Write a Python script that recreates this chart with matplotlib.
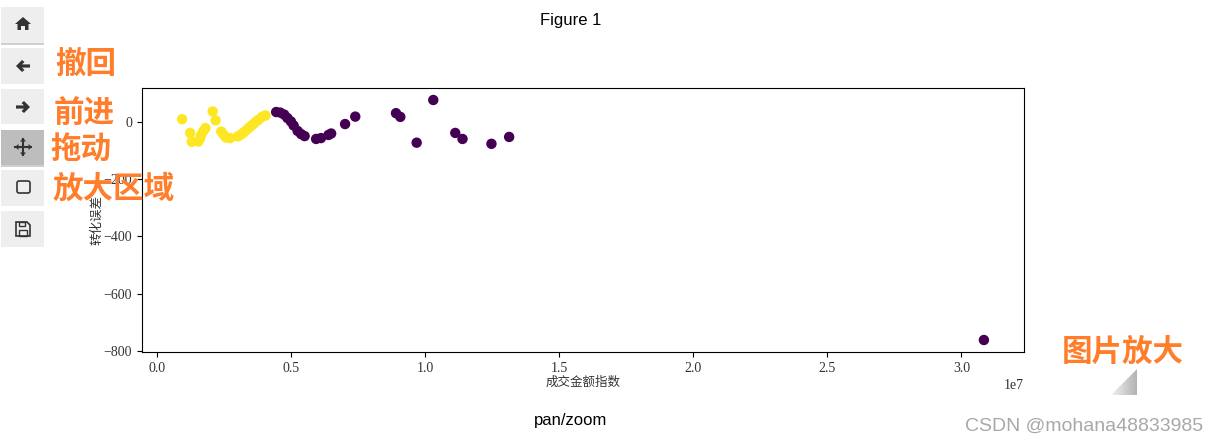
#!/usr/bin/env python3

import matplotlib
matplotlib.use("Agg")
import matplotlib.pyplot as plt
import numpy as np
from matplotlib.patches import Polygon, Rectangle, FancyBboxPatch

# scatter values
x_yellow = [0.93e6, 1.23e6, 1.29e6, 1.54e6, 1.60e6, 1.64e6, 1.72e6, 1.80e6, 2.07e6, 2.18e6, 2.39e6, 2.48e6, 2.57e6,
            2.72e6, 3.01e6, 3.12e6, 3.22e6, 3.32e6, 3.41e6, 3.50e6, 3.59e6, 3.68e6, 3.78e6, 3.91e6, 4.04e6]
y_yellow = [9, -39, -70, -69, -58, -46, -33, -22, 36, 5, -34, -45, -55,
            -57, -51, -45, -38, -30, -22, -15, -8, 0, 7, 17, 22]
x_purple = [4.44e6, 4.59e6, 4.74e6, 4.86e6, 4.99e6, 5.09e6, 5.24e6, 5.37e6, 5.50e6, 5.93e6,
            6.11e6, 6.39e6, 6.49e6, 7.01e6, 7.39e6, 8.91e6, 9.07e6, 9.68e6, 10.30e6, 11.12e6,
            11.39e6, 12.47e6, 13.13e6, 30.84e6]
y_purple = [34, 32, 25, 13, 1, -13, -32, -43, -50, -60,
            -57, -46, -41, -8, 18, 30, 17, -73, 76, -39,
            -60, -77, -53, -762]

xlabel = "成交金额指数"
ylabel = "转化误差"
notes = ["撤回", "前进", "拖动", "放大区域", "图片放大"]
W, H = 1219, 443

plt.rcParams["font.family"] = ["Liberation Serif", "Noto Sans CJK SC"]
fig = plt.figure(figsize=(W / 100, H / 100), dpi=100)

ax = fig.add_axes([142 / W, 1 - 352 / H, 882 / W, 264 / H])
labels = [1] * len(x_yellow) + [0] * len(x_purple)
ax.scatter(x_yellow + x_purple, y_yellow + y_purple, s=42, c=labels, cmap="viridis")
ax.set_xlabel(xlabel, family="Noto Sans CJK SC", fontsize=9, color="#333333", labelpad=1)
ax.set_ylabel(ylabel, family="Noto Sans CJK SC", fontsize=9, color="#333333", labelpad=0)
ax.tick_params(labelsize=10, labelcolor="#333333")

# page around the figure: toolbar, captions, notes, all in pixel coords
page = fig.add_axes([0, 0, 1, 1], zorder=5)
page.set_xlim(0, W)
page.set_ylim(H, 0)
page.axis("off")

tops = [7, 48, 89, 130, 170, 211]
bottoms = [43, 84, 124, 165, 206, 247]
for i, (t, b) in enumerate(zip(tops, bottoms)):
    face = "#bdbdbd" if i == 3 else "#eeeeee"
    if i in (0, 3):
        page.add_patch(Rectangle((1, b), 43, 2, fc="#cfcfcf", ec="none"))
    page.add_patch(Rectangle((1, t), 43, b - t, fc=face, ec="none"))

icon = "#333333"
# home
page.add_patch(Polygon([(15, 24), (23, 17), (31, 24), (28.5, 24), (28.5, 30), (25, 30), (25, 26),
                        (21, 26), (21, 30), (17.5, 30), (17.5, 24)], fc=icon, ec="none"))
# back / forward
back = np.array([(-7, 0), (-1, -6), (1.5, -4), (-1, -1.6), (7, -1.6), (7, 1.6), (-1, 1.6), (1.5, 4), (-1, 6)])
page.add_patch(Polygon(back + (23, 66), fc=icon, ec="none"))
page.add_patch(Polygon(back * (-1, 1) + (23, 107), fc=icon, ec="none"))
# move
page.plot([15, 31], [147, 147], color=icon, lw=1.5)
page.plot([23, 23], [139, 155], color=icon, lw=1.5)
page.add_patch(Polygon([(15, 147), (18.5, 144), (18.5, 150)], fc=icon, ec="none"))
page.add_patch(Polygon([(32, 147), (28.5, 144), (28.5, 150)], fc=icon, ec="none"))
page.add_patch(Polygon([(23, 138), (20, 141.5), (26, 141.5)], fc=icon, ec="none"))
page.add_patch(Polygon([(23, 156), (20, 152.5), (26, 152.5)], fc=icon, ec="none"))
# zoom box
page.add_patch(FancyBboxPatch((17, 181), 13, 12, boxstyle="round,pad=0,rounding_size=2", fc="none", ec=icon, lw=1.2))
# save
page.add_patch(Polygon([(16, 222), (27, 222), (30, 225), (30, 236), (16, 236)], fc="none", ec=icon, lw=1.2))
page.add_patch(Rectangle((19, 222), 6, 4, fc="none", ec=icon, lw=1))
page.add_patch(Rectangle((19, 230), 8, 6, fc="none", ec=icon, lw=1))

page.text(571, 20, "Figure 1", family="Liberation Sans", fontsize=12, ha="center", va="center")
page.text(571, 420, "pan/zoom", family="Liberation Sans", fontsize=12, ha="center", va="center")

orange = "#ff7d2b"
note_pos = [(55, 64), (54, 114), (50, 150), (53, 189), (1062, 352)]
for s, (nx, ny) in zip(notes, note_pos):
    page.text(nx, ny, s, family="Noto Sans CJK SC", weight="bold", fontsize=22, color=orange,
              ha="left", va="center")

# resize handle
grad = page.imshow(np.linspace(0.95, 0.7, 64).reshape(1, -1), extent=(1111, 1137, 395, 369),
                   cmap="gray", vmin=0, vmax=1, aspect="auto")
tri = Polygon([(1111, 395), (1137, 395), (1137, 369)], transform=page.transData, fc="none", ec="none")
page.add_patch(tri)
grad.set_clip_path(tri)
page.set_xlim(0, W)
page.set_ylim(H, 0)

page.text(965, 426, "CSDN @mohana48833985", family="Liberation Sans", fontsize=14, color="#a8a8a8",
          ha="left", va="center")

fig.savefig("out.png", dpi=100)
